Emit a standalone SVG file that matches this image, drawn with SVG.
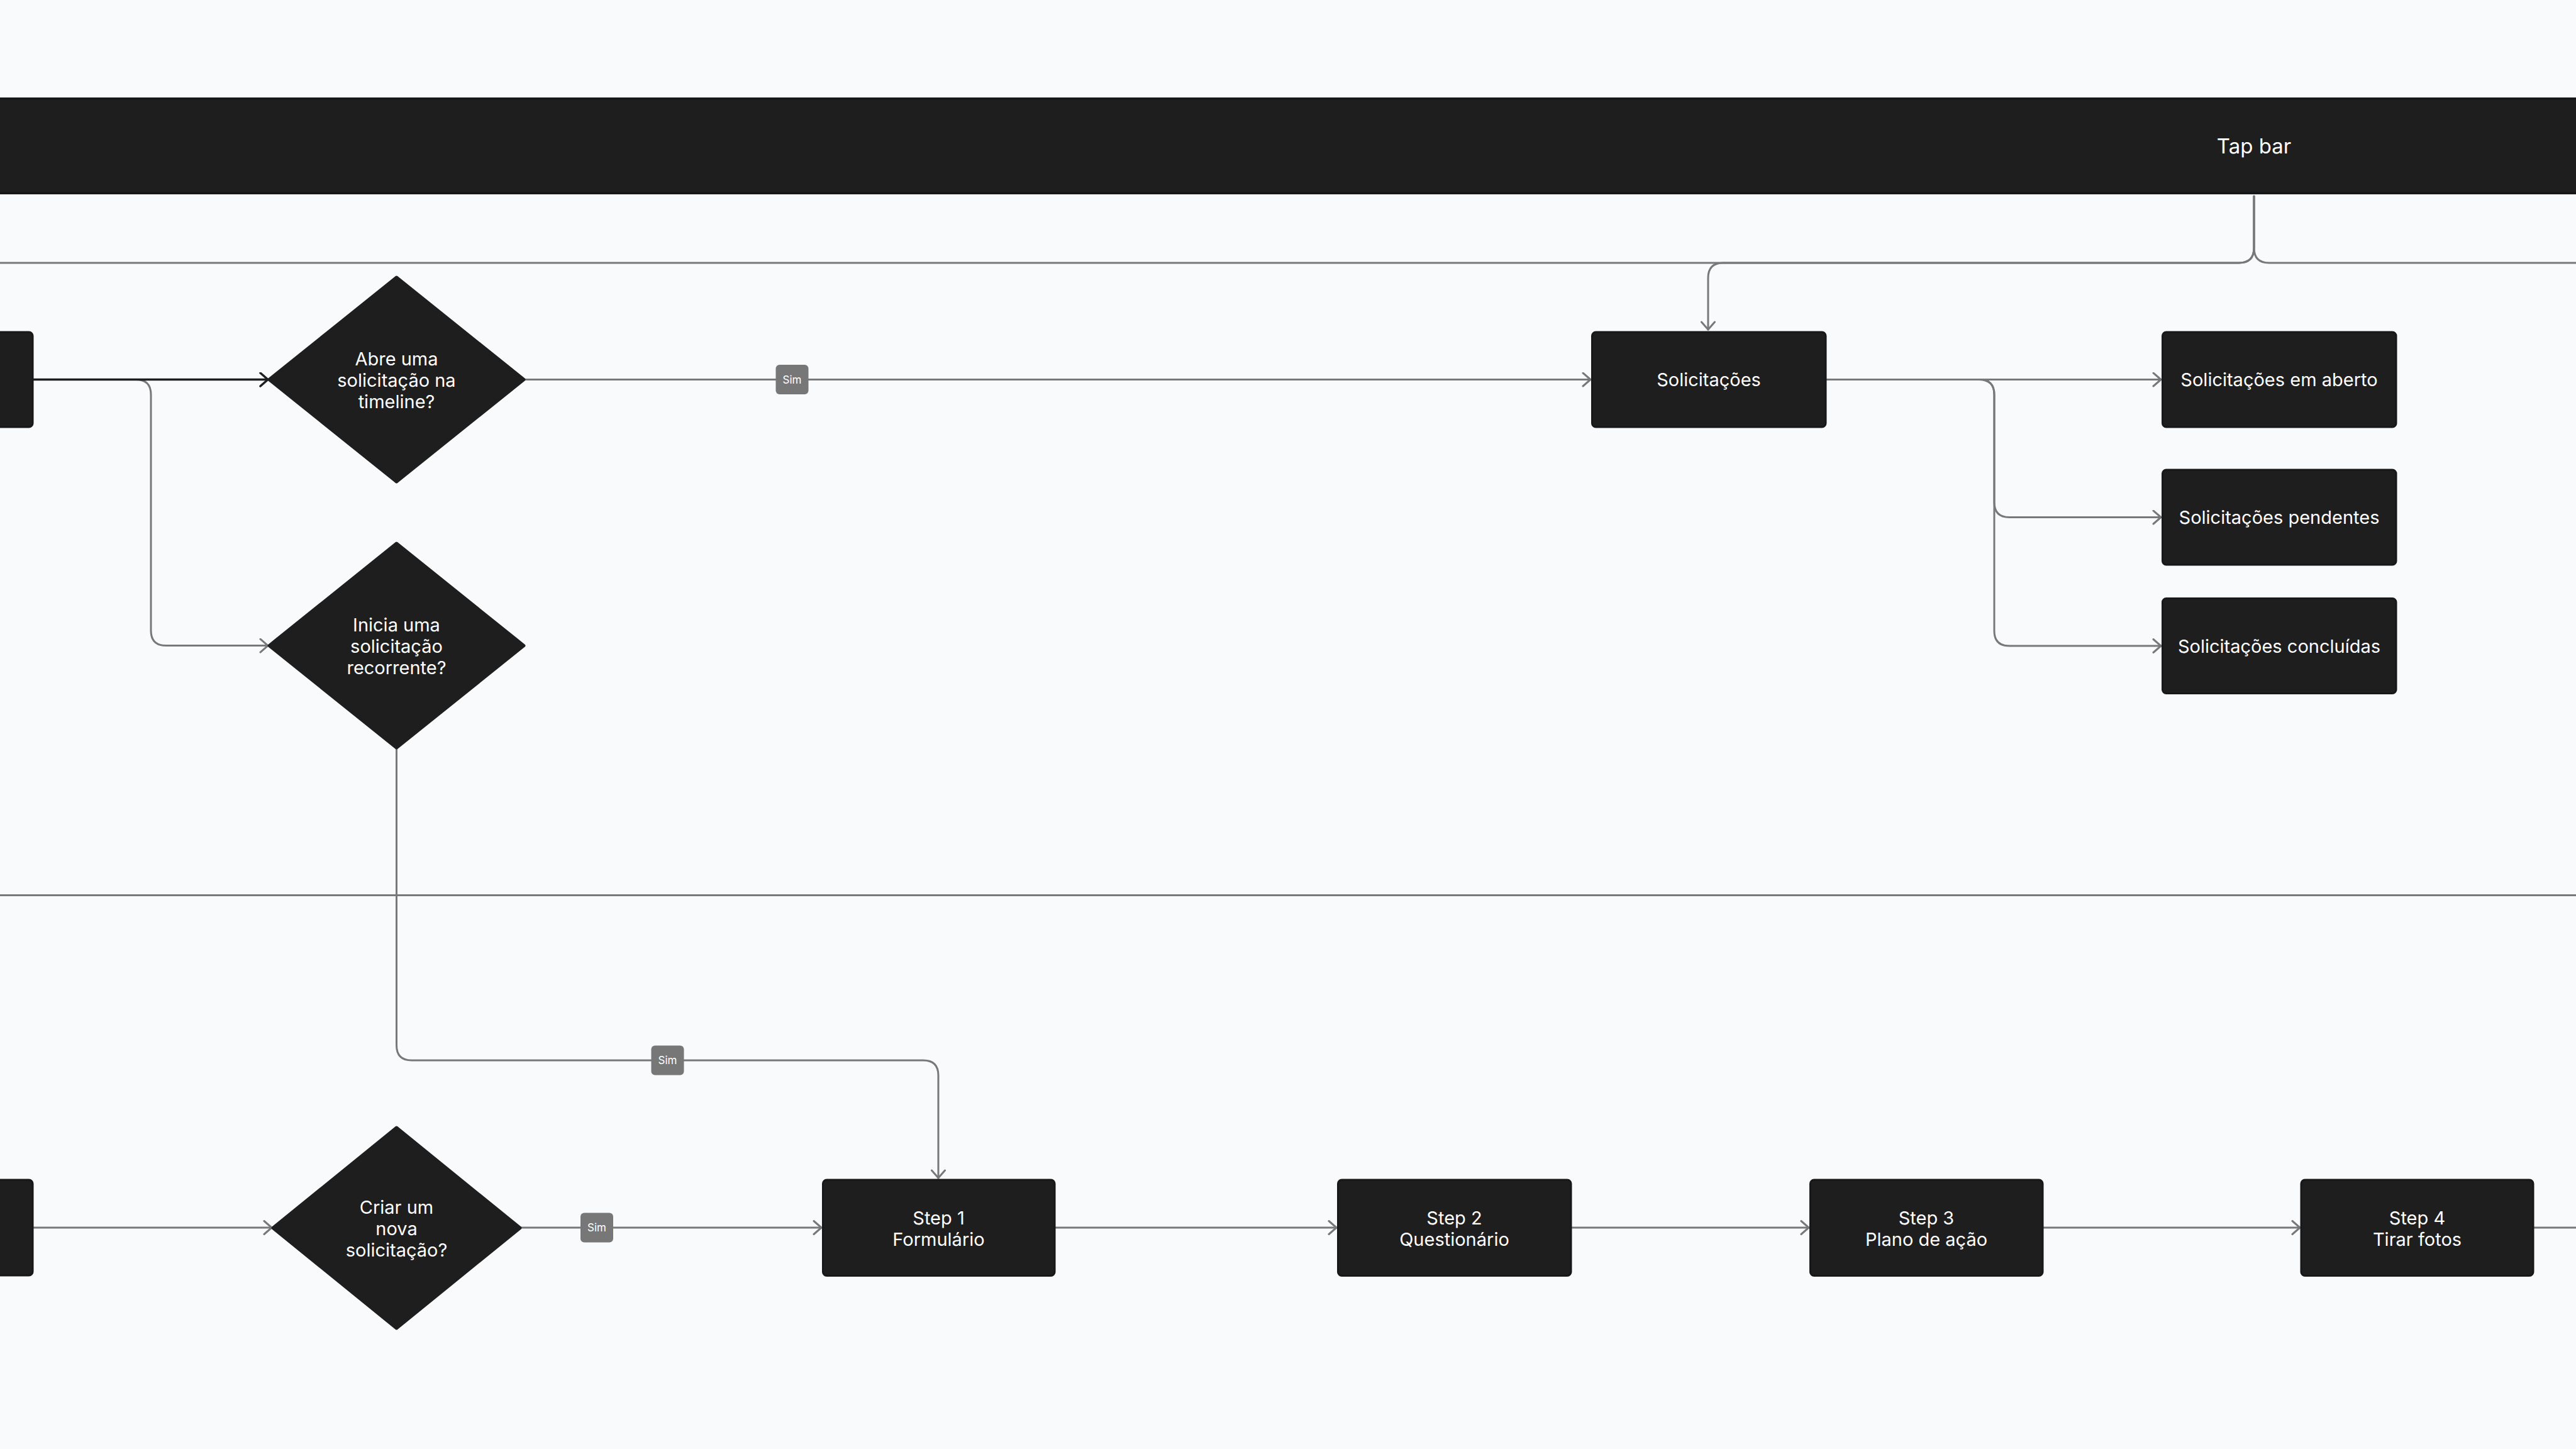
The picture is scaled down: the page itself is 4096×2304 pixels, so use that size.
<svg xmlns="http://www.w3.org/2000/svg" width="4096" height="2304" viewBox="0 0 4096 2304">
<defs>
<style>
.node{fill:#1e1e1e;stroke:#181818;stroke-width:3}
.dia{fill:#1e1e1e;stroke:#1e1e1e;stroke-width:5;stroke-linejoin:round}
.t{font-family:Inter,"Noto Sans","Liberation Sans",sans-serif;font-size:29px;fill:#ffffff;text-anchor:middle}
.conn{fill:none;stroke:#787878;stroke-width:3;stroke-linecap:round;stroke-linejoin:round}
.dark{fill:none;stroke:#1e1e1e;stroke-width:3.5;stroke-linecap:round}
.lbl{fill:#777777}
.lt{font-family:Inter,"Noto Sans","Liberation Sans",sans-serif;font-size:17px;fill:#ffffff;text-anchor:middle}
</style>
<marker id="arr" viewBox="0 0 16 24" refX="14" refY="12" markerWidth="16" markerHeight="24" markerUnits="userSpaceOnUse" orient="auto">
<path d="M2,1.5 L14,12 L2,22.5" fill="none" stroke="#787878" stroke-width="3" stroke-linecap="round" stroke-linejoin="round"/>
</marker>
<marker id="arrd" viewBox="0 0 16 24" refX="14" refY="12" markerWidth="16" markerHeight="24" markerUnits="userSpaceOnUse" orient="auto">
<path d="M2,1.5 L14,12 L2,22.5" fill="none" stroke="#1e1e1e" stroke-width="3.5" stroke-linecap="round" stroke-linejoin="round"/>
</marker>
</defs>
<rect x="0" y="0" width="4096" height="2304" fill="#f9fafc"/>

<g id="tapbar">
<rect x="-20" y="157" width="4136" height="150" fill="#1e1e1e" stroke="#171717" stroke-width="4"/>
<text class="t" x="3584" y="244" style="font-size:33px">Tap bar</text>
</g>

<g id="lane-divider">
<line x1="0" y1="1423.5" x2="4096" y2="1423.5" stroke="#787878" stroke-width="3"/>
</g>

<g id="connectors">
<path class="conn" d="M3584 312 V394 Q3584 418 3560 418 H0"/>
<path class="conn" d="M3584 312 V394 Q3584 418 3608 418 H4096"/>
<path class="conn" d="M3584 312 V394 Q3584 418 3560 418 H2740 Q2716 418 2716 442 V524" marker-end="url(#arr)"/>
<path class="conn" d="M52 603.5 H216 Q240 603.5 240 627.5 V1002.6 Q240 1026.6 264 1026.6 H426" marker-end="url(#arr)"/>
<path class="dark" d="M52 603.5 H426" marker-end="url(#arrd)"/>
<path class="conn" d="M833 603.5 H2529" marker-end="url(#arr)"/>
<path class="conn" d="M2903 603.5 H3436" marker-end="url(#arr)"/>
<path class="conn" d="M2903 603.5 H3147 Q3171 603.5 3171 627.5 V798.5 Q3171 822.5 3195 822.5 H3436" marker-end="url(#arr)"/>
<path class="conn" d="M2903 603.5 H3147 Q3171 603.5 3171 627.5 V1003 Q3171 1027 3195 1027 H3436" marker-end="url(#arr)"/>
<path class="conn" d="M630.5 1190 V1662 Q630.5 1686 654.5 1686 H1468 Q1492 1686 1492 1710 V1873" marker-end="url(#arr)"/>
<path class="conn" d="M52 1952 H432" marker-end="url(#arr)"/>
<path class="conn" d="M827 1952 H1306" marker-end="url(#arr)"/>
<path class="conn" d="M1677 1952 H2125" marker-end="url(#arr)"/>
<path class="conn" d="M2498 1952 H2876" marker-end="url(#arr)"/>
<path class="conn" d="M3248 1952 H3657" marker-end="url(#arr)"/>
<path class="conn" d="M4028 1952 H4096"/>
<g id="label-sim-1"><rect class="lbl" x="1233.5" y="580" width="52" height="47" rx="6"/><text class="lt" x="1259.5" y="609.5">Sim</text></g>
<g id="label-sim-2"><rect class="lbl" x="1035.5" y="1662.5" width="52" height="47" rx="6"/><text class="lt" x="1061.5" y="1692">Sim</text></g>
<g id="label-sim-3"><rect class="lbl" x="923" y="1928.5" width="52" height="47" rx="6"/><text class="lt" x="949" y="1958">Sim</text></g>
</g>

<g id="left-top">
<rect class="node" x="-320" y="528" width="372" height="151" rx="6"/>
</g>
<g id="dec-abre">
<polygon class="dia" points="630.5,441 833,603.5 630.5,766 428,603.5"/>
<text class="t" x="630.5" y="581">Abre uma</text>
<text class="t" x="630.5" y="615">solicitação na</text>
<text class="t" x="630.5" y="649">timeline?</text>
</g>
<g id="dec-inicia">
<polygon class="dia" points="630.5,864 833,1026.6 630.5,1189 428,1026.6"/>
<text class="t" x="630.5" y="1004">Inicia uma</text>
<text class="t" x="630.5" y="1038">solicitação</text>
<text class="t" x="630.5" y="1072">recorrente?</text>
</g>
<g id="solicitacoes">
<rect class="node" x="2531.5" y="528" width="371.5" height="151" rx="6"/>
<text class="t" x="2717" y="614">Solicitações</text>
</g>
<g id="sol-aberto">
<rect class="node" x="3438.5" y="528" width="371.5" height="151" rx="6"/>
<text class="t" x="3624" y="614">Solicitações em aberto</text>
</g>
<g id="sol-pendentes">
<rect class="node" x="3438.5" y="747" width="371.5" height="151" rx="6"/>
<text class="t" x="3624" y="833">Solicitações pendentes</text>
</g>
<g id="sol-concluidas">
<rect class="node" x="3438.5" y="951.5" width="371.5" height="151" rx="6"/>
<text class="t" x="3624" y="1037.5">Solicitações concluídas</text>
</g>
<g id="left-bottom">
<rect class="node" x="-320" y="1876" width="372" height="152" rx="6"/>
</g>
<g id="dec-criar">
<polygon class="dia" points="630.5,1793 827,1952.5 630.5,2112 434,1952.5"/>
<text class="t" x="630.5" y="1930">Criar um</text>
<text class="t" x="630.5" y="1964">nova</text>
<text class="t" x="630.5" y="1998">solicitação?</text>
</g>
<g id="step1">
<rect class="node" x="1308.5" y="1876" width="368.5" height="152.5" rx="6"/>
<text class="t" x="1492.5" y="1947">Step 1</text>
<text class="t" x="1492.5" y="1981">Formulário</text>
</g>
<g id="step2">
<rect class="node" x="2127.5" y="1876" width="370.5" height="152.5" rx="6"/>
<text class="t" x="2312.5" y="1947">Step 2</text>
<text class="t" x="2312.5" y="1981">Questionário</text>
</g>
<g id="step3">
<rect class="node" x="2878.5" y="1876" width="369.5" height="152.5" rx="6"/>
<text class="t" x="3063" y="1947">Step 3</text>
<text class="t" x="3063" y="1981">Plano de ação</text>
</g>
<g id="step4">
<rect class="node" x="3659" y="1876" width="369" height="152.5" rx="6"/>
<text class="t" x="3843.5" y="1947">Step 4</text>
<text class="t" x="3843.5" y="1981">Tirar fotos</text>
</g>
</svg>
